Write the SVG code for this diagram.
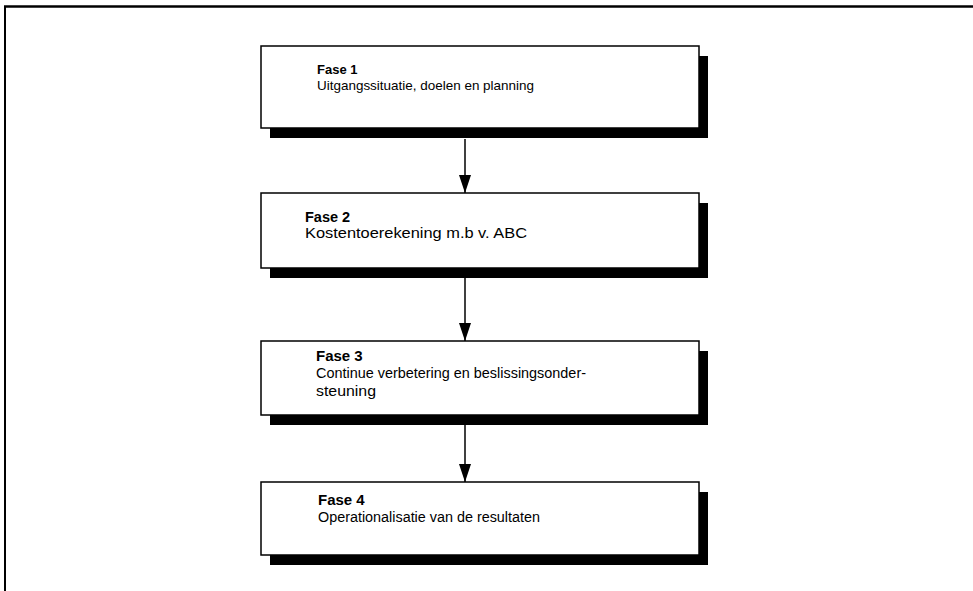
<svg xmlns="http://www.w3.org/2000/svg" width="973" height="591" viewBox="0 0 973 591">
  <defs>
    <marker id="head" viewBox="0 0 18 12" refX="18" refY="6" markerWidth="18" markerHeight="12" markerUnits="userSpaceOnUse" orient="auto">
      <path d="M0,0 L18,6 L0,12 z" fill="#000"/>
    </marker>
  </defs>
  <style>
    .shadow { fill: #000; }
    .box { fill: #fff; stroke: #000; stroke-width: 1.5; }
    .title { font-family: "Liberation Sans", Arial, sans-serif; font-weight: bold; fill: #000; }
    .body { font-family: "Liberation Sans", Arial, sans-serif; fill: #000; }
    .link { stroke: #000; stroke-width: 1.5; fill: none; marker-end: url(#head); }
    .frame { stroke: #000; fill: none; }
  </style>
  <rect width="973" height="591" fill="#fff"/>

  <!-- outer frame -->
  <g id="frame">
    <line class="frame" x1="4" y1="6.5" x2="973" y2="6.5" stroke-width="2.5"/>
    <line class="frame" x1="5" y1="6" x2="5" y2="591" stroke-width="2"/>
  </g>

  <!-- phase 1 -->
  <g id="fase1">
    <rect class="shadow" x="270" y="56" width="438" height="82"/>
    <rect class="box" x="261" y="46" width="438" height="82"/>
    <text class="title" x="317" y="74" font-size="13">Fase 1</text>
    <text class="body" x="317" y="90" font-size="13.5" textLength="217" lengthAdjust="spacingAndGlyphs">Uitgangssituatie, doelen en planning</text>
  </g>

  <!-- phase 2 -->
  <g id="fase2">
    <rect class="shadow" x="270" y="203" width="438" height="75"/>
    <rect class="box" x="261" y="193" width="438" height="75"/>
    <text class="title" x="305" y="222" font-size="14.5">Fase 2</text>
    <text class="body" x="305" y="238" font-size="14" textLength="222" lengthAdjust="spacingAndGlyphs">Kostentoerekening m.b v. ABC</text>
  </g>

  <!-- phase 3 -->
  <g id="fase3">
    <rect class="shadow" x="270" y="351" width="438" height="74"/>
    <rect class="box" x="261" y="341" width="438" height="74"/>
    <text class="title" x="316" y="361" font-size="15">Fase 3</text>
    <text class="body" x="316" y="378" font-size="14" textLength="270" lengthAdjust="spacingAndGlyphs">Continue verbetering en beslissingsonder-</text>
    <text class="body" x="316" y="396" font-size="14" textLength="60" lengthAdjust="spacingAndGlyphs">steuning</text>
  </g>

  <!-- phase 4 -->
  <g id="fase4">
    <rect class="shadow" x="270" y="492" width="438" height="73"/>
    <rect class="box" x="261" y="482" width="438" height="73"/>
    <text class="title" x="318" y="505" font-size="15">Fase 4</text>
    <text class="body" x="318" y="522" font-size="14" textLength="222" lengthAdjust="spacingAndGlyphs">Operationalisatie van de resultaten</text>
  </g>

  <!-- connectors -->
  <g id="connectors">
    <line class="link" x1="465" y1="139" x2="465" y2="193"/>
    <line class="link" x1="465" y1="278" x2="465" y2="341"/>
    <line class="link" x1="465" y1="425" x2="465" y2="482"/>
  </g>
</svg>
